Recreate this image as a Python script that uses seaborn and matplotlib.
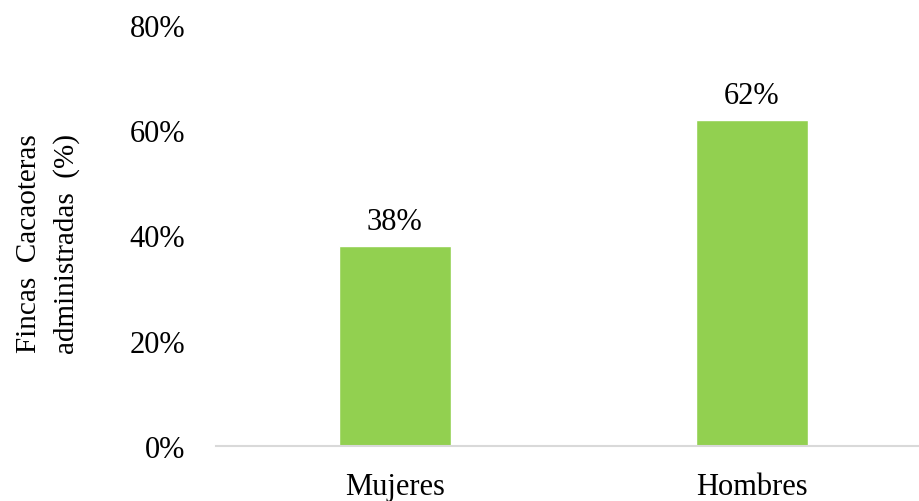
import seaborn as sns
import matplotlib.pyplot as plt
import pandas as pd

# Share of cocoa farms managed, by gender
categories = ["Mujeres", "Hombres"]
values = [38, 62]
ytick_values = [0, 20, 40, 60, 80]

df = pd.DataFrame({"genero": categories, "porcentaje": values})

sns.set_theme(style="white")
plt.rcParams["font.family"] = ["Liberation Serif", "DejaVu Serif"]
plt.rcParams["text.color"] = "black"
plt.rcParams["xtick.color"] = "black"
plt.rcParams["ytick.color"] = "black"

fig = plt.figure(figsize=(9.2, 5.02), dpi=100)
ax = fig.add_axes([0.2348, 0.1096, 0.7652, 0.8386])

sns.barplot(x="genero", y="porcentaje", data=df, color="#92D050",
            width=0.314, saturation=1, ax=ax)

for c in ax.containers:
    ax.bar_label(c, labels=[f"{v}%" for v in values], padding=7, fontsize=22)

ax.set_ylim(0, 80)
ax.set_xlim(-0.5, 1.47)
ax.set_yticks(ytick_values)
ax.set_yticklabels([f"{v}%" for v in ytick_values])
ax.tick_params(axis="y", length=0, labelsize=22, pad=22)
ax.tick_params(axis="x", length=0, labelsize=22, pad=19)

ax.set_xlabel("")
ax.set_ylabel("")
fig.text(0.052, 0.514, "Fincas  Cacaoteras\nadministradas  (%)", rotation=90,
         ha="center", va="center", fontsize=21, linespacing=1.55)

for side in ["top", "right", "left"]:
    ax.spines[side].set_visible(False)
ax.spines["bottom"].set_color("#D9D9D9")
ax.spines["bottom"].set_linewidth(1.5)

fig.savefig("out.png", dpi=100)
